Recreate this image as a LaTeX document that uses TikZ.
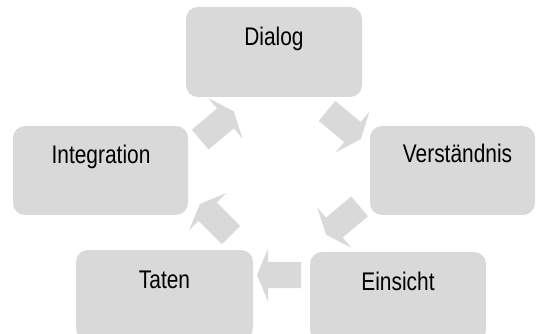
\documentclass[tikz,border=0pt]{standalone}
\usepackage{fontspec}
\setmainfont{Liberation Sans}[FakeStretch=0.82]
\definecolor{boxgray}{HTML}{D9D9D9}
\begin{document}
\begin{tikzpicture}[x=1pt,y=-1pt,
  box/.style={fill=boxgray, rounded corners=12pt, draw=none, inner sep=0pt},
  lbl/.style={anchor=base, inner sep=0pt, text=black, font=\fontsize{25.5}{30}\selectfont},
  barrow/.pic={\fill[boxgray] (-22,-13) -- (11,-13) -- (11,-26.5) -- (22,0) -- (11,26.5) -- (11,13) -- (-22,13) -- cycle;}]
\useasboundingbox (0,0) rectangle (536,334);
\clip (0,0) rectangle (536,334);
% boxes
\node[box, minimum width=176pt, minimum height=90pt] (dialog) at (274,52) {};
\node[box, minimum width=165pt, minimum height=89pt] (verst) at (452.5,170.5) {};
\node[box, minimum width=176pt, minimum height=90pt] (einsicht) at (398,297) {};
\node[box, minimum width=177pt, minimum height=90pt] (taten) at (164.5,295) {};
\node[box, minimum width=175pt, minimum height=89pt] (integ) at (100.5,170.5) {};
% labels
\node[lbl] (tdialog) at (274,46) {Dialog};
\node[lbl] (tverst) at (457.5,163) {Verständnis};
\node[lbl] (teinsicht) at (398,290) {Einsicht};
\node[lbl] (ttaten) at (164.5,288) {Taten};
\node[lbl] (tinteg) at (101,164) {Integration};
% block arrows
\pic[rotate=-39.6] (a1) at (344,125) {barrow};
\pic[rotate=220.2] (a2) at (342.8,220.5) {barrow};
\pic[rotate=180] (a3) at (279,275) {barrow};
\pic[rotate=135] (a4) at (215.5,219.5) {barrow};
\pic[rotate=40.2] (a5) at (217,125.5) {barrow};
\end{tikzpicture}
\end{document}
